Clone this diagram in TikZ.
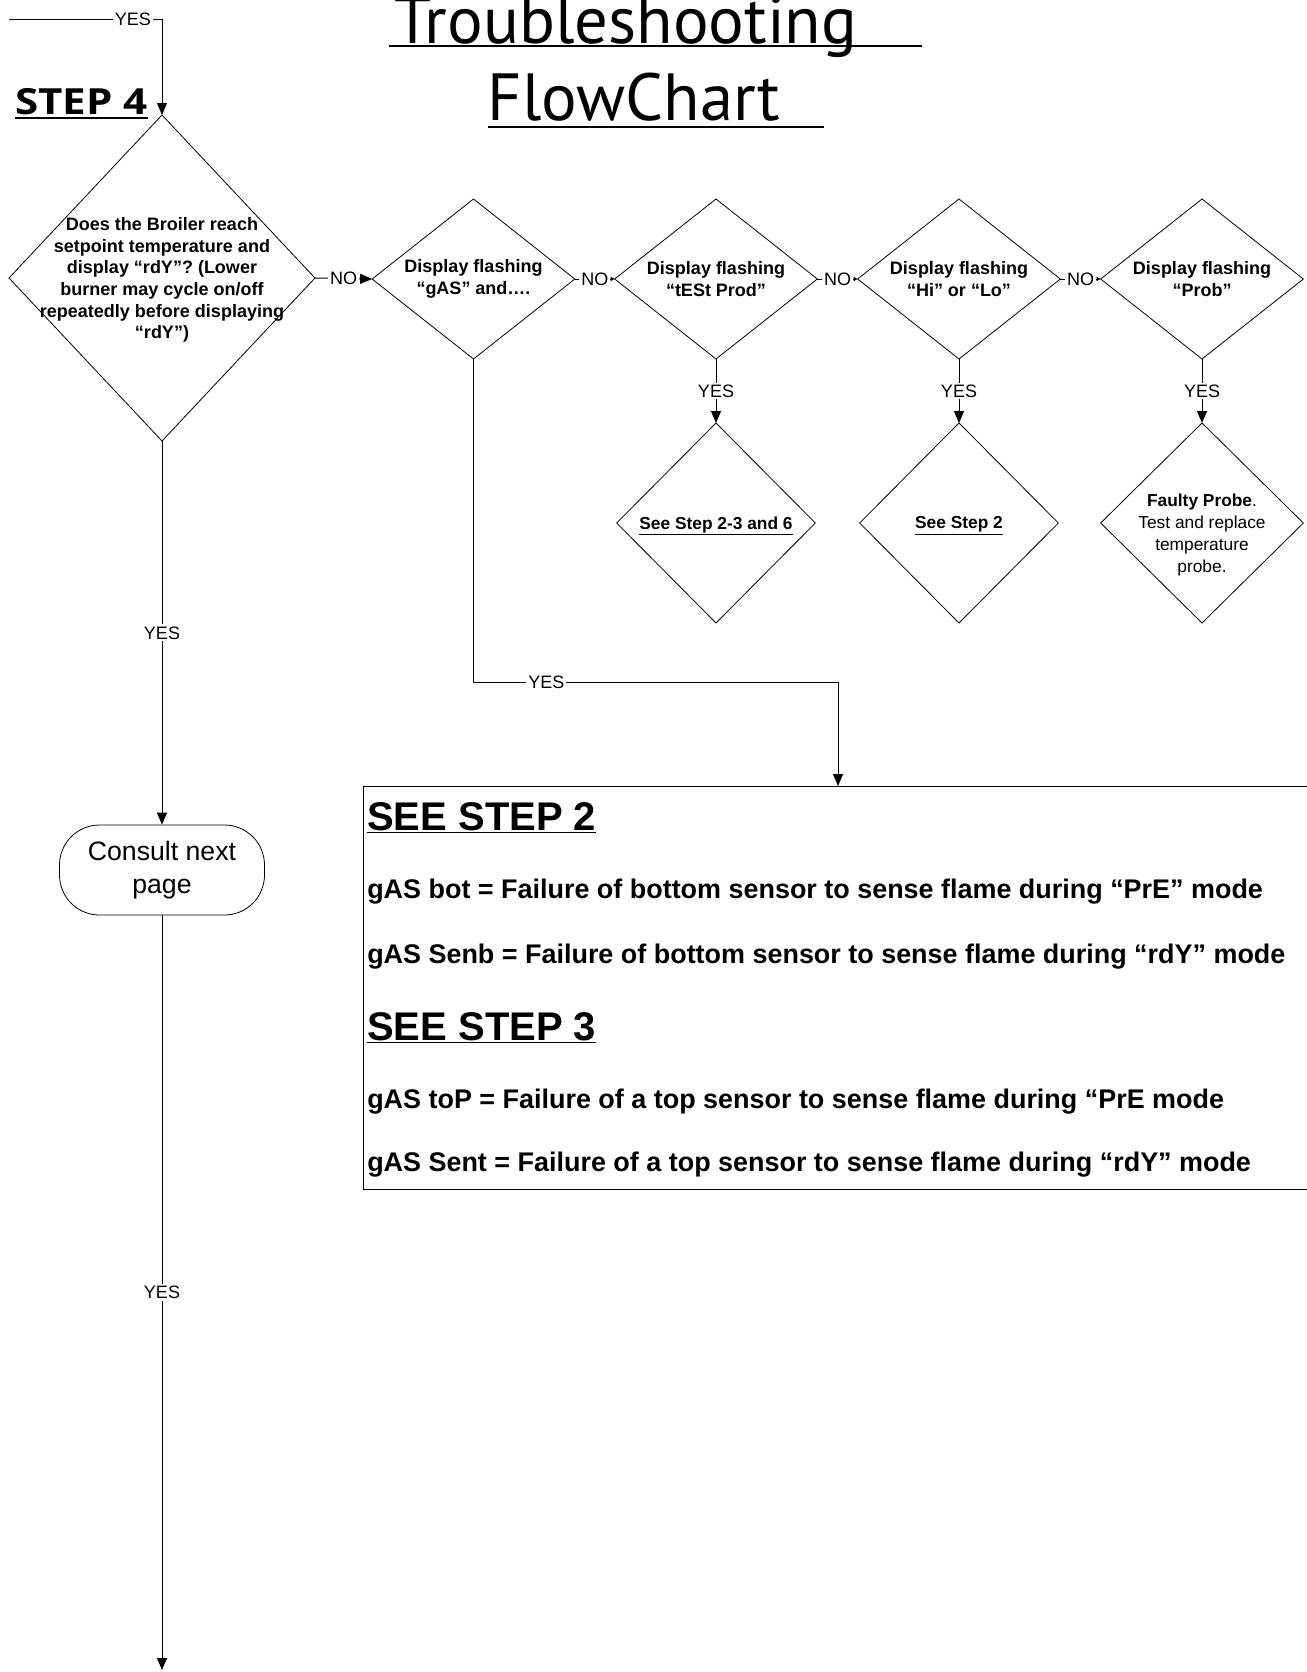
\documentclass[tikz,border=0pt]{standalone}
\usepackage{fontspec}
\usepackage{graphicx}
\setmainfont{Liberation Sans}
\newfontfamily\titlefont{PT Sans}
\newfontfamily\stepfont{Open Sans}
\usetikzlibrary{shapes.geometric,arrows.meta}
\begin{document}
\begin{tikzpicture}[x=0.75pt,y=-0.75pt,
  dia/.style={diamond,draw,line width=0.6pt,inner sep=0pt,outer sep=0pt},
  qtxt/.style={align=center,font=\fontsize{13.5}{16.3}\selectfont\bfseries,inner sep=0pt},
  atxt/.style={align=center,font=\fontsize{13}{16.3}\selectfont,inner sep=0pt},
  lbl/.style={fill=white,inner sep=1.5pt,font=\fontsize{13.5}{16}\selectfont},
  arr/.style={line width=0.75pt,-{Triangle[length=9pt,width=7.5pt]}},
  smallarr/.style={line width=0.75pt,-{Triangle[length=3pt,width=3pt]}},
  boxline/.style={anchor=base west,inner sep=0pt,font=\fontsize{20.2}{24}\selectfont\bfseries},
  boxhead/.style={anchor=base west,inner sep=0pt,font=\fontsize{30}{36}\selectfont\bfseries},
]
\useasboundingbox (0,0) rectangle (1307,1672);

% title
\node[anchor=base,inner sep=0pt,font=\titlefont\fontsize{50}{60}\selectfont] (t1) at (626,43) {Troubleshooting};
\node[anchor=base,inner sep=0pt,font=\titlefont\fontsize{50}{60}\selectfont] (t2) at (634,120) {FlowChart};
\draw[line width=2.2pt] (389,46) -- (922,46);
\draw[line width=2.2pt] (488,127) -- (824,127);

% step label
\node[anchor=base west,inner sep=0pt,font=\stepfont\bfseries\fontsize{27}{30}\selectfont] (s4) at (15,114) {\scalebox{1.17}[1]{STEP 4}};
\draw[line width=1.6pt] (15,118) -- (148,118);

% diamonds
\node[dia,minimum width=229.5pt,minimum height=244.5pt] (d1) at (162,278) {};
\node[qtxt] (d1t) at (162,280) {Does the Broiler reach\\setpoint temperature and\\display “rdY”? (Lower\\burner may cycle on/off\\repeatedly before displaying\\“rdY”)};

\node[dia,minimum width=152pt,minimum height=120pt] (d2) at (473.5,279) {};
\node[qtxt] (d2t) at (473.5,279) {Display flashing\\“gAS” and….};
\node[dia,minimum width=152pt,minimum height=120pt] (d3) at (716,279) {};
\node[qtxt] (d3t) at (716,279) {Display flashing\\“tESt Prod”};
\node[dia,minimum width=152pt,minimum height=120pt] (d4) at (959,279) {};
\node[qtxt] (d4t) at (959,279) {Display flashing\\“Hi” or “Lo”};
\node[dia,minimum width=152pt,minimum height=120pt] (d5) at (1202,279) {};
\node[qtxt] (d5t) at (1202,279) {Display flashing\\“Prob”};

\node[dia,minimum width=149pt,minimum height=150pt] (e3) at (716,523) {};
\node[atxt,font=\fontsize{13}{16.3}\selectfont\bfseries] (e3t) at (716,526) {\underline{See Step 2-3 and 6}};
\node[dia,minimum width=149pt,minimum height=150pt] (e4) at (959,523) {};
\node[atxt,font=\fontsize{13}{16.3}\selectfont\bfseries] (e4t) at (959,526) {\underline{See Step 2}};
\node[dia,minimum width=152pt,minimum height=150pt] (e5) at (1202,523) {};
\node[atxt] (e5t) at (1202,535) {\textbf{Faulty Probe}.\\Test and replace\\temperature\\probe.};

% terminal
\node[draw,line width=0.6pt,rounded corners=30pt,minimum width=153.75pt,minimum height=67.5pt,align=center,inner sep=0pt,font=\fontsize{20}{24.7}\selectfont] (term) at (162,870) {Consult next\\page};

% info box
\node[draw,line width=0.75pt,anchor=north west,minimum width=735pt,minimum height=302.25pt,inner sep=0pt] (box) at (363,786) {};
\node[boxhead] (h2) at (367,830) {\underline{SEE STEP 2}};
\node[boxline] (b1) at (367,898) {gAS bot = Failure of bottom sensor to sense flame during “PrE” mode};
\node[boxline] (b2) at (367,963) {gAS Senb = Failure of bottom sensor to sense flame during “rdY” mode};
\node[boxhead] (h3) at (367,1040) {\underline{SEE STEP 3}};
\node[boxline] (b3) at (367,1108) {gAS toP = Failure of a top sensor to sense flame during “PrE mode};
\node[boxline] (b4) at (367,1171) {gAS Sent = Failure of a top sensor to sense flame during “rdY” mode};

% connectors
\coordinate (tin) at (9,19);
\coordinate (tcorner) at (162,19);
\draw[arr] (tin) -- node[lbl,pos=0.81]{YES} (tcorner) -- (d1.north);
\draw[arr] (d1.east) -- node[lbl]{NO} (d2.west);
\draw[smallarr] (d2.east) -- node[lbl]{NO} (d3.west);
\draw[smallarr] (d3.east) -- node[lbl]{NO} (d4.west);
\draw[smallarr] (d4.east) -- node[lbl]{NO} (d5.west);
\draw[arr] (d3.south) -- node[lbl]{YES} (e3.north);
\draw[arr] (d4.south) -- node[lbl]{YES} (e4.north);
\draw[arr] (d5.south) -- node[lbl]{YES} (e5.north);
\draw[arr] (d1.south) -- node[lbl]{YES} (term.north);
\coordinate (pend) at (162,1670);
\draw[arr] (term.south) -- node[lbl]{YES} (pend);
\coordinate (gcorner) at (838,682);
\coordinate (boxin) at (838,786);
\draw[arr] (d2.south) |- node[lbl,pos=0.6]{YES} (gcorner) -- (boxin);
\end{tikzpicture}
\end{document}
